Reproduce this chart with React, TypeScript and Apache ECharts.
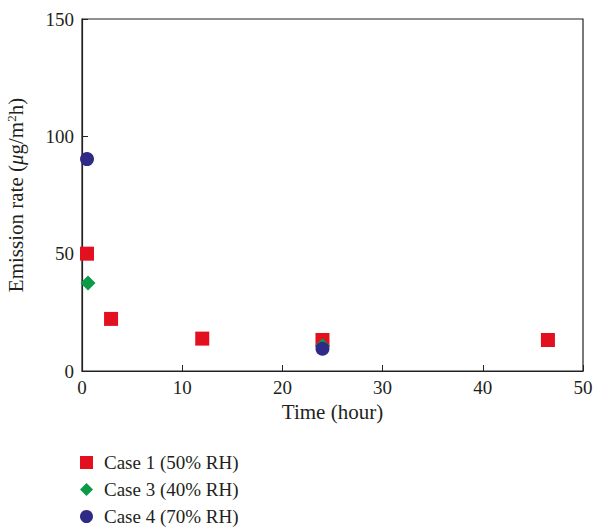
import React, { useEffect, useRef } from "react";
import * as echarts from "echarts";

const case1Time = [0.5, 2.9, 12.0, 24.0, 46.5];
const case1Rate = [50, 22.2, 13.8, 13.2, 13.2];
const case3Time = [0.6, 24.0];
const case3Rate = [37.5, 10.8];
const case4Time = [0.5, 24.0];
const case4Rate = [90.3, 9.5];
const seriesNames = ["Case 1 (50% RH)", "Case 3 (40% RH)", "Case 4 (70% RH)"];

const FONT = "Liberation Serif";
const INK = "#231f20";

export default function App() {
  const ref = useRef<HTMLDivElement>(null);
  useEffect(() => {
    const chart = echarts.init(ref.current!, null, { renderer: "svg" });
    const pts = (xs: number[], ys: number[]) => xs.map((x, i) => [x, ys[i]]);
    chart.setOption({
      animation: false,
      textStyle: { fontFamily: FONT },
      grid: {
        left: 82,
        right: 12,
        top: 19,
        bottom: 156,
        show: true,
        borderColor: "#222",
        borderWidth: 1.2,
        containLabel: false,
        outerBoundsMode: "none",
      },
      legend: {
        orient: "vertical",
        left: 80,
        top: 453,
        height: 80,
        itemGap: 8,
        itemWidth: 13,
        itemHeight: 13,
        padding: 0,
        textStyle: { fontFamily: FONT, fontSize: 19, color: INK, padding: [0, 0, 0, 6] },
        data: seriesNames,
      },
      xAxis: {
        type: "value",
        min: 0,
        max: 50,
        interval: 10,
        name: "Time (hour)",
        nameLocation: "middle",
        nameGap: 30,
        nameTextStyle: { fontFamily: FONT, fontSize: 21, color: INK },
        axisLine: { lineStyle: { color: "#222", width: 1.2 } },
        axisTick: { inside: true, length: 6, lineStyle: { color: "#222" } },
        axisLabel: { fontFamily: FONT, fontSize: 19, color: INK, margin: 7 },
        splitLine: { show: false },
      },
      yAxis: {
        type: "value",
        min: 0,
        max: 150,
        interval: 50,
        name: "{n|Emission rate (}{i|μ}{n|g/m}{s|2}{n|h)}",
        nameLocation: "middle",
        nameRotate: 90,
        nameGap: 55,
        nameTextStyle: {
          fontFamily: FONT,
          fontSize: 21,
          color: INK,
          rich: {
            n: { fontFamily: FONT, fontSize: 21, color: INK },
            i: { fontFamily: FONT, fontSize: 21, fontStyle: "italic", color: INK },
            s: { fontFamily: FONT, fontSize: 13, color: INK, verticalAlign: "top", padding: [0, 0, 9, 0] },
          },
        },
        axisLine: { lineStyle: { color: "#222", width: 1.2 } },
        axisTick: { inside: true, length: 6, lineStyle: { color: "#222" } },
        axisLabel: { fontFamily: FONT, fontSize: 19, color: INK, margin: 8 },
        splitLine: { show: false },
      },
      series: [
        {
          name: seriesNames[0],
          type: "scatter",
          symbol: "rect",
          symbolSize: 14,
          itemStyle: { color: "#e3101f", opacity: 1 },
          data: pts(case1Time, case1Rate),
          z: 2,
        },
        {
          name: seriesNames[1],
          type: "scatter",
          symbol: "diamond",
          symbolSize: 15,
          itemStyle: { color: "#0b9a48", opacity: 1 },
          data: pts(case3Time, case3Rate),
          z: 3,
        },
        {
          name: seriesNames[2],
          type: "scatter",
          symbol: "circle",
          symbolSize: 14,
          itemStyle: { color: "#2e2a86", opacity: 1 },
          data: pts(case4Time, case4Rate),
          z: 4,
        },
      ],
    });
    return () => chart.dispose();
  }, []);
  return <div ref={ref} style={{ width: 595, height: 527, position: "absolute", left: 0, top: 0 }} />;
}
